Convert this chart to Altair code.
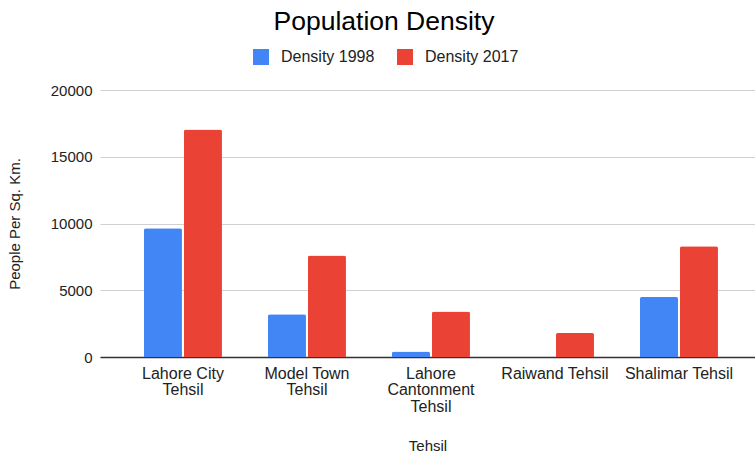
import altair as alt
import pandas as pd

tehsils = ["Lahore City Tehsil", "Model Town Tehsil", "Lahore Cantonment Tehsil",
           "Raiwand Tehsil", "Shalimar Tehsil"]
density_1998 = [9650, 3200, 420, 0, 4500]
density_2017 = [17050, 7600, 3400, 1800, 8300]
series = ["Density 1998", "Density 2017"]
colors = ["#4285F4", "#EA4335"]

rows = []
for t, a, b in zip(tehsils, density_1998, density_2017):
    rows.append({"Tehsil": t, "Series": series[0], "Value": a})
    rows.append({"Tehsil": t, "Series": series[1], "Value": b})
df = pd.DataFrame(rows)

label_lines = {
    "Lahore City Tehsil": ["Lahore City", "Tehsil"],
    "Model Town Tehsil": ["Model Town", "Tehsil"],
    "Lahore Cantonment Tehsil": ["Lahore", "Cantonment", "Tehsil"],
    "Raiwand Tehsil": ["Raiwand Tehsil"],
    "Shalimar Tehsil": ["Shalimar Tehsil"],
}
expr = "datum.label"
for k, v in label_lines.items():
    arr = "[" + ",".join("'" + s + "'" for s in v) + "]"
    expr = f"datum.label == '{k}' ? {arr} : ({expr})"

FONT = "Liberation Sans"

chart = alt.Chart(df).mark_bar(cornerRadiusTopLeft=2, cornerRadiusTopRight=2).encode(
    x=alt.X("Tehsil:N", sort=tehsils,
            scale=alt.Scale(paddingInner=0.371, paddingOuter=0.3266, align=0.543, round=False),
            axis=alt.Axis(title="Tehsil", labelAngle=0, labelExpr=expr,
                          labelFont=FONT, labelFontSize=16, labelColor="#222",
                          labelLineHeight=16.5, labelPadding=8, labelLimit=200,
                          ticks=False, domainColor="#333", domainWidth=1.5,
                          titleFont=FONT, titleFontSize=15, titleFontWeight="normal",
                          titleColor="#222", titlePadding=24)),
    xOffset=alt.XOffset("Series:N", sort=series,
                        scale=alt.Scale(paddingInner=0.05, paddingOuter=0, round=False)),
    y=alt.Y("Value:Q", scale=alt.Scale(domain=[0, 20000]),
            axis=alt.Axis(title="People Per Sq. Km.", values=[0, 5000, 10000, 15000, 20000],
                          format="d", labelFont=FONT, labelFontSize=15, labelColor="#222",
                          labelPadding=8, ticks=False, domain=False,
                          gridColor="#d0d0d0", gridWidth=1,
                          titleFont=FONT, titleFontSize=15, titleFontWeight="normal",
                          titleColor="#222", titlePadding=28)),
    color=alt.Color("Series:N", sort=series,
                    scale=alt.Scale(domain=series, range=colors),
                    legend=alt.Legend(title=None, orient="none", direction="horizontal",
                                      legendX=153, legendY=-41,
                                      symbolType="square", symbolSize=256,
                                      symbolStrokeWidth=0, symbolOpacity=1,
                                      labelFont=FONT, labelFontSize=16, labelColor="#222",
                                      columnPadding=22, labelOffset=12)),
).properties(
    width=655, height=267,
    title=alt.TitleParams("Population Density", font=FONT, fontSize=26.5,
                          fontWeight="normal", color="#000", anchor="middle",
                          dx=-43.5, offset=14),
    autosize=alt.AutoSizeParams(type="none"),
    padding={"left": 100, "top": 90, "right": 0, "bottom": 100},
).configure_view(stroke=None)

chart.save("out.html", embed_options={"renderer": "svg", "actions": False})
